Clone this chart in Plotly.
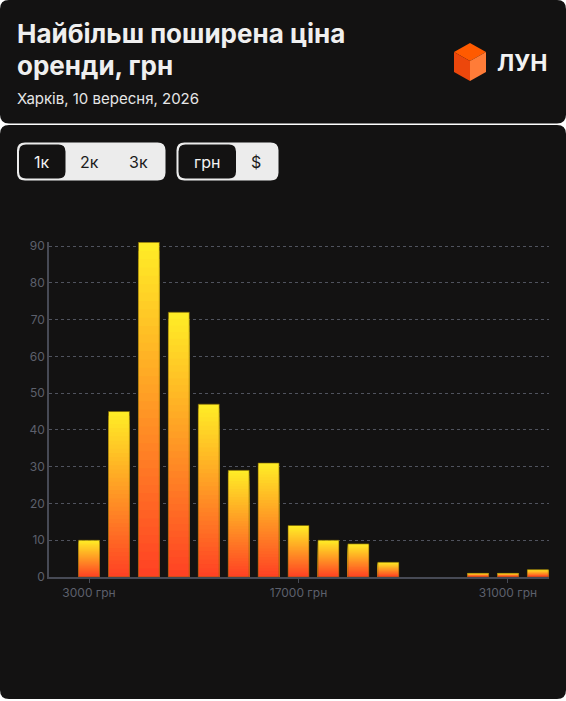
import plotly.graph_objects as go

# ---- data ----
prices = [3000, 5000, 7000, 9000, 11000, 13000, 15000, 17000, 19000, 21000,
          23000, 25000, 27000, 29000, 31000, 33000]
counts = [10, 45, 91, 72, 47, 29, 31, 14, 10, 9, 4, 0, 0, 1, 1, 2]
x_tick_vals = [3000, 17000, 31000]
x_tick_text = ["3000 грн", "17000 грн", "31000 грн"]
y_tick_vals = [0, 10, 20, 30, 40, 50, 60, 70, 80, 90]

title_lines = ["Найбільш поширена ціна", "оренди, грн"]
subtitle = "Харків, 10 вересня, 2026"
brand = "ЛУН"
room_buttons = ["1к", "2к", "3к"]
currency_buttons = ["грн", "$"]

# ---- geometry ----
W, H = 566, 701
L, R, T, B = 49, 17, 242, 124
PW, PH = W - L - R, H - T - B


def px(x):
    return (x - L) / PW


def py(y):
    return (H - B - y) / PH


def rrect(x0, y0, x1, y1, r):
    pts = [
        ("M", [(x0 + r, y0)]), ("L", [(x1 - r, y0)]), ("Q", [(x1, y0), (x1, y0 + r)]),
        ("L", [(x1, y1 - r)]), ("Q", [(x1, y1), (x1 - r, y1)]),
        ("L", [(x0 + r, y1)]), ("Q", [(x0, y1), (x0, y1 - r)]),
        ("L", [(x0, y0 + r)]), ("Q", [(x0, y0), (x0 + r, y0)]),
    ]
    s = ""
    for cmd, ps in pts:
        s += cmd + " " + " ".join(f"{px(a):.5f},{py(b):.5f}" for a, b in ps) + " "
    return s + "Z"


def poly(points):
    s = "M " + " L ".join(f"{px(a):.5f},{py(b):.5f}" for a, b in points)
    return s + " Z"


CARD = "#131212"
shapes = []


def add_shape(path, fill, layer="below", line=None):
    shapes.append(dict(type="path", xref="paper", yref="paper", path=path,
                       fillcolor=fill, line=line or dict(width=0), layer=layer))


add_shape(rrect(0, 0, 566, 123.5, 9), CARD)
add_shape(rrect(0, 125, 566, 699, 9), CARD)

# buttons
add_shape(rrect(17, 142.5, 165.5, 180.5, 8), "#ececec", layer="above")
add_shape(rrect(19, 144.5, 65.5, 178.5, 7), CARD, layer="above")
add_shape(rrect(176.5, 142.5, 278.5, 180.5, 8), "#ececec", layer="above")
add_shape(rrect(178.5, 144.5, 236, 178.5, 7), CARD, layer="above")

# logo cube
add_shape(poly([(470, 43), (486, 52), (470, 61), (454, 52)]), "#ff5a00", layer="above")
add_shape(poly([(454, 52), (470, 61), (470, 81), (454, 72)]), "#ec470c", layer="above")
add_shape(poly([(486, 52), (470, 61), (470, 81), (486, 72)]), "#ff7c38", layer="above")

# ---- bars with vertical gradient ----
top_c = (255, 238, 38)
bot_c = (255, 64, 36)
N = 40
fig = go.Figure()
for i in range(N):
    f = 1 - i / N
    h = f - 0.5 / N
    c = tuple(round(bot_c[k] + (top_c[k] - bot_c[k]) * h) for k in range(3))
    fig.add_trace(go.Bar(
        x=prices, y=[v * f for v in counts], width=1400,
        marker=dict(color=f"rgb{c}", line=dict(width=0)),
        hoverinfo="skip", showlegend=False))
outline_cols = ["rgba(120,95,0,0.6)" if v > 0 else "rgba(0,0,0,0)" for v in counts]
fig.add_trace(go.Bar(
    x=prices, y=counts, width=1400,
    marker=dict(color="rgba(0,0,0,0)", line=dict(width=1, color=outline_cols)),
    showlegend=False))

# ---- annotations ----
ann = []


def text(x, y, s, size, color, weight=400, xanchor="left"):
    ann.append(dict(x=px(x), y=py(y), xref="paper", yref="paper", text=s,
                    showarrow=False, xanchor=xanchor, yanchor="middle",
                    font=dict(family="Inter", size=size, color=color, weight=weight)))


text(15, 33, title_lines[0], 26, "#efefef", 700)
text(15, 66, title_lines[1], 26, "#efefef", 700)
text(15, 98, subtitle, 15, "#e6e6e6", 400)
text(495, 63, brand, 23, "#f2f2f2", 700)
for lbl, cx, col in zip(room_buttons, [42, 89, 138], ["#f2f2f2", "#1c1c1c", "#1c1c1c"]):
    text(cx, 162, lbl, 16, col, 400, xanchor="center")
for lbl, cx, col in zip(currency_buttons, [207, 256], ["#f2f2f2", "#1c1c1c"]):
    text(cx, 162, lbl, 16, col, 400, xanchor="center")

AX = "#474a55"
TICK = "#5d606c"
fig.update_layout(
    width=W, height=H, margin=dict(l=L, r=R, t=T, b=B),
    paper_bgcolor="#ffffff", plot_bgcolor="rgba(0,0,0,0)",
    barmode="overlay", shapes=shapes, annotations=ann,
    xaxis=dict(range=[324, 33742], tickvals=x_tick_vals, ticktext=x_tick_text,
               ticks="outside", ticklen=4, tickcolor=AX, showline=True, linecolor=AX,
               linewidth=1.5, showgrid=False, zeroline=False, fixedrange=True,
               tickfont=dict(family="Inter", size=12, color=TICK)),
    yaxis=dict(range=[0, 91.1], tickvals=y_tick_vals, showgrid=True, gridcolor="#50535e",
               griddash="dot", gridwidth=1, showline=True, linecolor=AX, linewidth=1.5,
               zeroline=False, ticks="", fixedrange=True,
               tickfont=dict(family="Inter", size=12, color=TICK)),
    font=dict(family="Inter"),
)

fig.write_html("out.html", config={"displayModeBar": False},
               post_script="document.body.style.margin='0';document.body.style.padding='0';"
                           "document.body.style.overflow='hidden';")
